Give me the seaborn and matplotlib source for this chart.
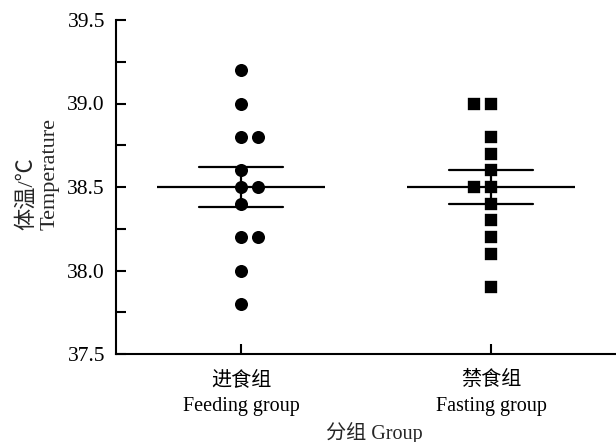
import numpy as np
import pandas as pd
import matplotlib
matplotlib.use("Agg")
import matplotlib.pyplot as plt
import seaborn as sns

groups = ["进食组\nFeeding group", "禁食组\nFasting group"]
feeding = [39.2, 39.0, 38.8, 38.8, 38.6, 38.5, 38.5, 38.4, 38.2, 38.2, 38.0, 37.8]
fasting = [39.0, 39.0, 38.8, 38.7, 38.6, 38.5, 38.5, 38.4, 38.3, 38.2, 38.1, 37.9]
yticks = [37.5, 38.0, 38.5, 39.0, 39.5]

df = pd.DataFrame({
    "group": [groups[0]] * len(feeding) + [groups[1]] * len(fasting),
    "temp": feeding + fasting,
})

sns.set_theme(style="ticks")
plt.rcParams["font.family"] = ["Liberation Serif", "Noto Sans CJK SC", "DejaVu Sans"]
plt.rcParams["axes.linewidth"] = 1.5

fig = plt.figure(figsize=(6.16, 4.42), dpi=100)
ax = fig.add_axes([116 / 616, 1 - 354 / 442, 1 - 116 / 616, (354 - 20) / 442])

markers = ["o", "s"]
for g, m in zip(groups, markers):
    sns.swarmplot(data=df[df.group == g], x="group", y="temp", order=groups,
                  marker=m, size=10.6, color="black", edgecolor="white",
                  linewidth=1.2, ax=ax, zorder=1)

sns.pointplot(data=df, x="group", y="temp", order=groups, errorbar="se",
              markers="_", markersize=121, markeredgewidth=1.6, linestyle="none",
              color="black", capsize=0.335, err_kws={"linewidth": 1.6}, ax=ax, zorder=3)

ax.set_xlim(-0.5, 1.5)
ax.set_ylim(37.5, 39.5)
ax.set_yticks(yticks)
ax.set_yticklabels([f"{v:.1f}" for v in yticks])
ax.set_yticks(np.arange(37.75, 39.5, 0.5), minor=True)
ax.tick_params(axis="both", which="both", direction="in", length=7, width=1.5,
               colors="black")
ax.tick_params(axis="y", labelsize=15.5, pad=8)
ax.tick_params(axis="x", labelsize=14.5, pad=12)
for lbl in ax.get_xticklabels():
    lbl.set_linespacing(1.5)
ax.set_xlabel("分组 Group", fontsize=14.5)
ax.xaxis.set_label_coords((374.5 - 116) / 500, -(443.5 - 354) / 334)
ax.xaxis.label.set_va("bottom")
ax.set_ylabel("体温/℃\nTemperature", fontsize=16, linespacing=1.25,
              multialignment="left")
ax.yaxis.set_label_coords((60 - 116) / 500, (354 - 173.5) / 334)
sns.despine(ax=ax)
ax.spines["left"].set_color("black")
ax.spines["bottom"].set_color("black")

fig.savefig("out.png", dpi=100)
